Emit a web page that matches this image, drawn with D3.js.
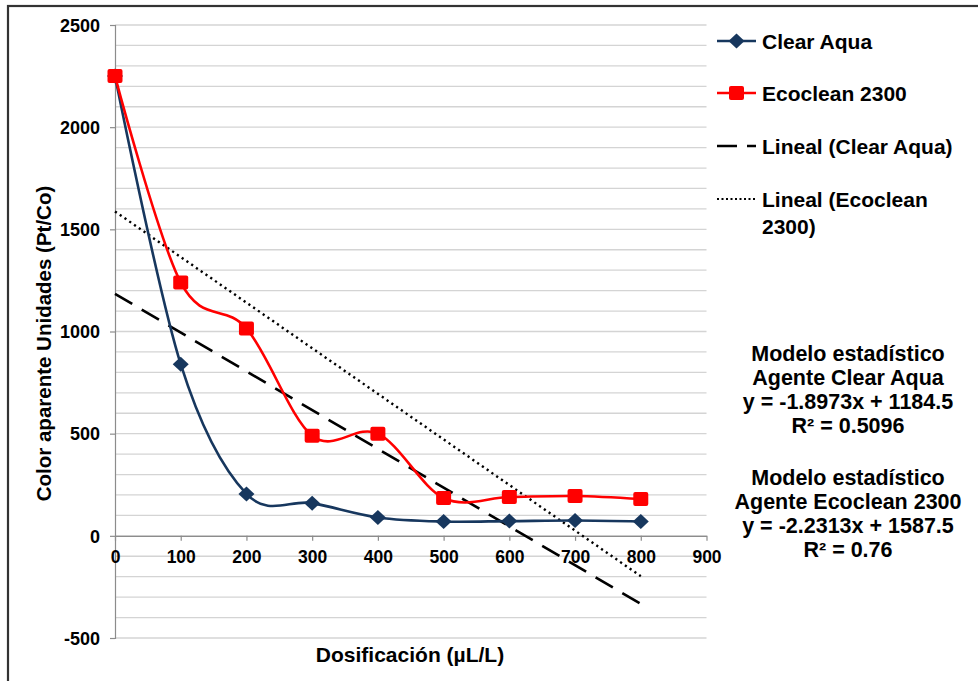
<!DOCTYPE html>
<html>
<head>
<meta charset="utf-8">
<script src="https://cdn.jsdelivr.net/npm/d3@7"></script>
<style>
  body { margin: 0; background: #fff; }
  text { font-family: "Liberation Sans", Arial, sans-serif; font-weight: bold; fill: #000; }
</style>
</head>
<body>
<svg id="chart" width="978" height="681"></svg>
<script>
// dosage values (µL/L)
const dosis = [0, 100, 200, 300, 400, 500, 600, 700, 800];
const clearAqua = [2250, 840, 205, 160, 90, 70, 72, 75, 70];
const ecoclean = [2250, 1240, 1015, 490, 500, 185, 190, 195, 180];

// linear trend models printed on the chart
const trendSlopes = [-1.8973, -2.2313];
const trendIntercepts = [1184.5, 1587.5];

const xTicks = [0, 100, 200, 300, 400, 500, 600, 700, 800, 900];
const yTicks = [-500, 0, 500, 1000, 1500, 2000, 2500];

const legendLabels = ['Clear Aqua', 'Ecoclean 2300', 'Lineal (Clear Aqua)', ['Lineal (Ecoclean', '2300)']];
const modelText = [
    ['Modelo estadístico', 'Agente Clear Aqua', 'y = -1.8973x + 1184.5', 'R² = 0.5096'],
    ['Modelo estadístico', 'Agente Ecoclean 2300', 'y = -2.2313x + 1587.5', 'R² = 0.76']
];

const svg = d3.select('#chart');
const margin = {left: 115, right: 272, top: 25, bottom: 43};
const width = 978, height = 681;

const xscale = d3.scaleLinear().domain([0, 900]).range([margin.left, width - margin.right + 0.5]);
const yscale = d3.scaleLinear().domain([-500, 2500]).range([height - margin.bottom, margin.top]);

// outer frame (cut off on right and bottom)
svg.append('rect')
    .attr('x', 8).attr('y', 6)
    .attr('width', 1000).attr('height', 700)
    .attr('fill', 'none')
    .attr('stroke', '#333')
    .attr('stroke-width', 2.2);

// minor gridlines every 100
const grid = d3.range(-500, 2501, 100);
svg.append('g').selectAll('line')
    .data(grid)
    .join('line')
    .attr('x1', xscale(0)).attr('x2', xscale(900))
    .attr('y1', d => yscale(d)).attr('y2', d => yscale(d))
    .attr('stroke', '#d4d4d4')
    .attr('stroke-width', 1.3);

// y axis
const yaxis = d3.axisLeft(yscale).tickValues(yTicks).tickSize(5).tickPadding(10).tickFormat(d => String(d));
const yg = svg.append('g')
    .attr('transform', `translate(${xscale(0)},0)`)
    .call(yaxis);
yg.select('.domain').attr('stroke', '#8c8c8c').attr('stroke-width', 1.2);
yg.selectAll('.tick line').attr('stroke', '#8c8c8c').attr('stroke-width', 1.2);
yg.selectAll('.tick text').style('font-size', '18px').style('font-family', '"Liberation Sans", Arial, sans-serif').style('font-weight', 'bold').attr('dy', '0.35em');

// x axis at y = 0
const xaxis = d3.axisBottom(xscale).tickValues(xTicks).tickSize(5).tickPadding(10).tickSizeOuter(0);
const xg = svg.append('g')
    .attr('transform', `translate(0,${yscale(0)})`)
    .call(xaxis);
xg.select('.domain').attr('stroke', '#8c8c8c').attr('stroke-width', 1.2);
xg.selectAll('.tick line').attr('stroke', '#8c8c8c').attr('stroke-width', 1.2);
xg.selectAll('.tick text').style('font-size', '17.5px').style('font-family', '"Liberation Sans", Arial, sans-serif').style('font-weight', 'bold');

// axis titles
svg.append('text')
    .attr('x', 410).attr('y', 662)
    .attr('text-anchor', 'middle')
    .style('font-size', '21px')
    .text('Dosificación (µL/L)');

svg.append('text')
    .attr('transform', `translate(51, ${yscale(1000) + 12}) rotate(-90)`)
    .attr('text-anchor', 'middle')
    .style('font-size', '20.5px')
    .text('Color aparente Unidades (Pt/Co)');

// trend lines
const trendStyles = [
    {dash: '20,11', width: 2.6},
    {dash: '2.2,3.6', width: 2.4}
];
trendSlopes.forEach((m, i) => {
    const pts = [0, 800].map(x => [x, m * x + trendIntercepts[i]]);
    svg.append('path')
        .attr('d', d3.line().x(d => xscale(d[0])).y(d => yscale(d[1]))(pts))
        .attr('fill', 'none')
        .attr('stroke', '#000')
        .attr('stroke-width', trendStyles[i].width)
        .attr('stroke-dasharray', trendStyles[i].dash);
});

// smoothed series
const smooth = d3.line()
    .x(d => xscale(d[0]))
    .y(d => yscale(d[1]))
    .curve(d3.curveCardinal.tension(0));

const navy = '#17375e';
const red = '#ff0000';

const aquaPts = dosis.map((x, i) => [x, clearAqua[i]]);
const ecoPts = dosis.map((x, i) => [x, ecoclean[i]]);

svg.append('path')
    .attr('d', smooth(aquaPts))
    .attr('fill', 'none').attr('stroke', navy).attr('stroke-width', 2.6);

svg.append('path')
    .attr('d', smooth(ecoPts))
    .attr('fill', 'none').attr('stroke', red).attr('stroke-width', 2.6);

const diamond = 'M0,-7.5L8,0L0,7.5L-8,0Z';

svg.append('g').selectAll('path')
    .data(aquaPts)
    .join('path')
    .attr('d', diamond)
    .attr('transform', d => `translate(${xscale(d[0])},${yscale(d[1])})`)
    .attr('fill', navy);

svg.append('g').selectAll('rect')
    .data(ecoPts)
    .join('rect')
    .attr('x', d => xscale(d[0]) - 7.5)
    .attr('y', d => yscale(d[1]) - 7)
    .attr('width', 15).attr('height', 14)
    .attr('rx', 2)
    .attr('fill', red);

// legend
const legend = svg.append('g');
const legY = [41, 93, 146, 199];
const lx0 = 717, lx1 = 756;

legend.append('line').attr('x1', lx0).attr('x2', lx1).attr('y1', legY[0]).attr('y2', legY[0]).attr('stroke', navy).attr('stroke-width', 2.6);
legend.append('path').attr('d', diamond).attr('transform', `translate(${(lx0 + lx1) / 2},${legY[0]})`).attr('fill', navy);

legend.append('line').attr('x1', lx0).attr('x2', lx1).attr('y1', legY[1]).attr('y2', legY[1]).attr('stroke', red).attr('stroke-width', 2.6);
legend.append('rect').attr('x', (lx0 + lx1) / 2 - 7.5).attr('y', legY[1] - 7).attr('width', 15).attr('height', 14).attr('rx', 2).attr('fill', red);

legend.append('line').attr('x1', lx0).attr('x2', lx1).attr('y1', legY[2]).attr('y2', legY[2]).attr('stroke', '#000').attr('stroke-width', 2.6).attr('stroke-dasharray', '20,10');
legend.append('line').attr('x1', lx0).attr('x2', lx1).attr('y1', legY[3]).attr('y2', legY[3]).attr('stroke', '#000').attr('stroke-width', 2).attr('stroke-dasharray', '2,2.5');

legendLabels.forEach((lab, i) => {
    const t = legend.append('text')
        .attr('x', 762).attr('y', legY[i] + 7.5)
        .style('font-size', '21px');
    const lines = Array.isArray(lab) ? lab : [lab];
    lines.forEach((s, j) => {
        t.append('tspan').attr('x', 762).attr('dy', j === 0 ? 0 : 27.5).text(s);
    });
});

// model annotations
const blockY = [361, 485];
modelText.forEach((block, b) => {
    block.forEach((s, j) => {
        svg.append('text')
            .attr('x', 848).attr('y', blockY[b] + j * 24)
            .attr('text-anchor', 'middle')
            .style('font-size', '21.5px')
            .text(s);
    });
});
</script>
</body>
</html>
